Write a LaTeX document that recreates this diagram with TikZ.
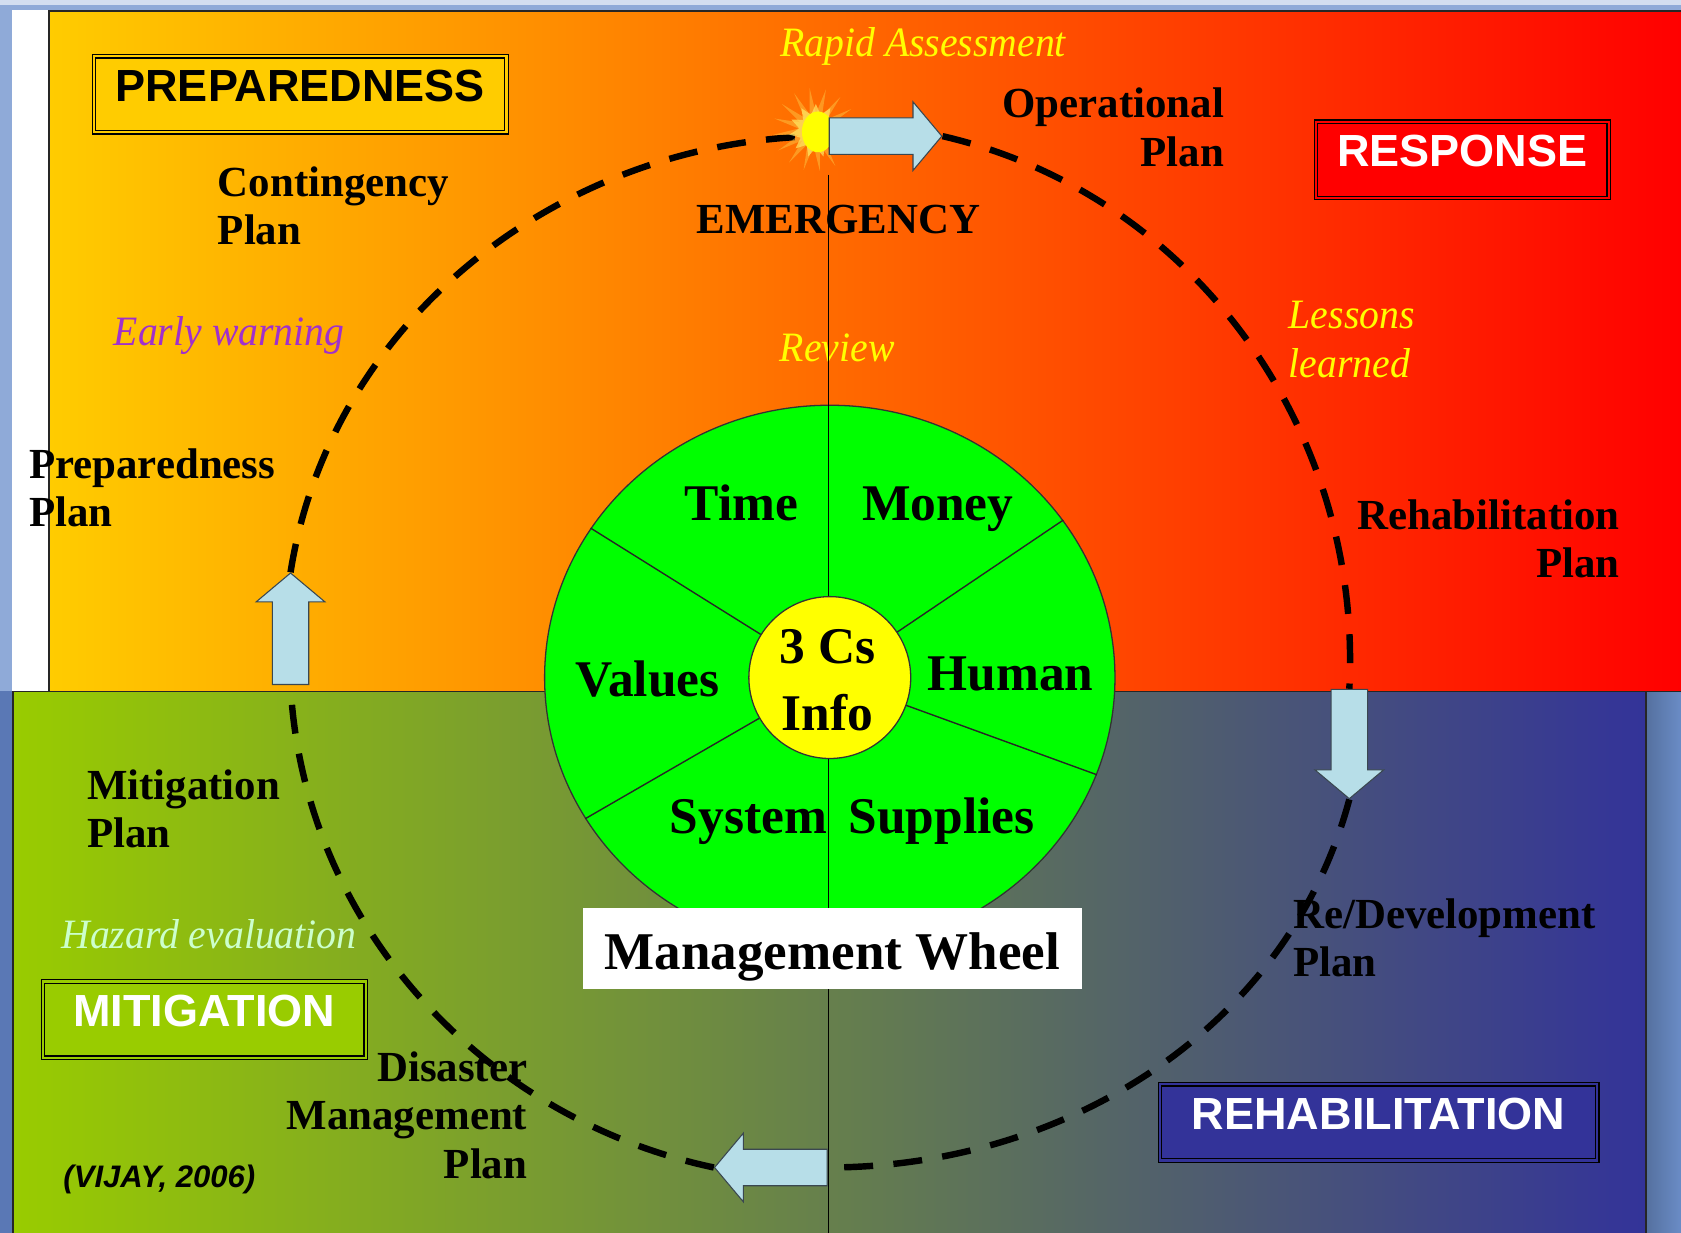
\documentclass[tikz,border=0pt]{standalone}
\usepackage{fontspec}
\setmainfont{Liberation Serif}
\newfontfamily\arialf{Liberation Sans}
\newfontfamily\itfam[FakeStretch=0.95]{Liberation Serif}
\usetikzlibrary{shapes.arrows,shapes.geometric}
\definecolor{topL}{HTML}{FFCC00}
\definecolor{topM}{HTML}{FFA000}
\definecolor{topR}{HTML}{FF0000}
\definecolor{botL}{HTML}{99CC00}
\definecolor{botM}{HTML}{76946E}
\definecolor{botR}{HTML}{333399}
\definecolor{slide}{HTML}{8FAAD8}
\definecolor{slidepale}{HTML}{D3DEF0}
\definecolor{slidedk}{HTML}{5A78B5}
\definecolor{stripR}{HTML}{6A8CC6}
\definecolor{arrfill}{HTML}{B7DEE8}
\definecolor{arrline}{HTML}{3A4750}
\definecolor{wgreen}{HTML}{00FF00}
\definecolor{hubyel}{HTML}{FFFF00}
\definecolor{ewarn}{HTML}{A030CC}
\definecolor{hazard}{HTML}{CCFFCC}
\definecolor{rapid}{HTML}{FFFF00}
\definecolor{mitfill}{HTML}{99CC00}
\definecolor{rehfill}{HTML}{333399}
\pgfdeclarelayer{bgl}
\pgfdeclarelayer{mid}
\pgfsetlayers{bgl,mid,main}
\begin{document}
\begin{tikzpicture}[x=1pt, y=-1pt,
  phase/.style={draw=black, line width=1.1pt, double=#1, double distance=2pt, fill=#1,
    font=\arialf\bfseries\fontsize{42}{42}\selectfont, text height=36pt, text depth=23pt,
    inner ysep=6pt, inner xsep=0pt},
  lab/.style={font=\bfseries\fontsize{40}{45}\selectfont, inner sep=0pt},
  itl/.style={font=\itfam\itshape\fontsize{39}{45}\selectfont, inner sep=0pt},
  whl/.style={font=\bfseries\fontsize{48}{48}\selectfont, inner sep=0pt},
  arr/.style={single arrow, fill=arrfill, draw=arrline, line width=1pt,
    text height=16.5pt, text depth=16.5pt, minimum width=63pt,
    single arrow head extend=15pt, single arrow tip angle=100, inner sep=0pt, anchor=tail},
  cyc/.style={line width=6pt, dash pattern=on 27pt off 19pt},
  spoke/.style={draw=black!85, line width=1.3pt}]
\useasboundingbox (0,0) rectangle (1568,1150);
\begin{pgfonlayer}{bgl}
  \fill[slidepale] (0,0) rectangle (1568,1150);
  \fill[slide] (0,5) rectangle (1568,1150);
  \fill[slidedk] (0,645) rectangle (12,1150);
  \fill[white] (11,9) rectangle (46,645);
  \shade[left color=topL, middle color=topM, right color=topR] (46,10) rectangle (1568,645);
  \shade[left color=botL, middle color=botM, right color=botR] (12,645) rectangle (1535,1150);
  \shade[left color=stripR!80!black, right color=stripR] (1535,645) rectangle (1568,1150);
  \draw[line width=1.6pt, black!85] (1568,10) -- (46,10) -- (46,645);
  \draw[line width=1.6pt, black!85] (12,1150) -- (12,645) -- (1568,645);
  \draw[line width=1.6pt, black!85] (1535,645) -- (1535,1150);
\end{pgfonlayer}

% phase boxes
\node[phase=topL, minimum width=385pt] (prep) at (280,88) {PREPAREDNESS};
\node[phase=red, text=white, minimum width=273pt] (resp) at (1364,149) {RESPONSE};
\node[phase=mitfill, text=white, minimum width=301pt] (miti) at (190.5,951) {MITIGATION};
\node[phase=rehfill, text=white, minimum width=408pt] (rehab) at (1286,1047) {REHABILITATION};

% plan labels
\node[lab, align=left, anchor=north west] (contin) at (203,155) {Contingency\\Plan};
\node[lab, align=right, anchor=north east] (oper) at (1142,82) {Operational\\Plan};
\node[lab, anchor=base] (emerg) at (782,217.6) {EMERGENCY};
\node[lab, align=left, anchor=north west] (prepplan) at (27,418) {Preparedness\\Plan};
\node[lab, align=right, anchor=north east] (rehplan) at (1511,466) {Rehabilitation\\Plan};
\node[lab, align=left, anchor=north west] (mitplan) at (81,718) {Mitigation\\Plan};
\node[lab, align=right, anchor=north east] (dmplan) at (492,981) {Disaster\\Management\\Plan};
\node[lab, align=left, anchor=north west] (redev) at (1206,838) {Re/Development\\Plan};

% italic notes
\node[itl, text=rapid, anchor=base] (rapidn) at (861,53) {Rapid Assessment};
\node[itl, text=rapid, anchor=base] (review) at (781,337) {Review};
\node[itl, text=rapid, align=left, anchor=north west] (lessons) at (1202,281) {Lessons\\learned};
\node[itl, text=ewarn, anchor=base west] (early) at (106,322) {Early warning};
\node[itl, text=hazard, anchor=base west] (hazardn) at (57,885) {Hazard evaluation};
\node[font=\arialf\bfseries\itshape\fontsize{29}{29}\selectfont, inner sep=0pt, anchor=base west] (vijay) at (59,1107.5) {(VIJAY, 2006)};

% wheel
\node[ellipse, minimum width=532pt, minimum height=508pt, fill=wgreen, draw=black!80, line width=1.2pt, inner sep=0pt] (wheel) at (774,632) {};
\coordinate (vtop) at (773,163);
\coordinate (vbot) at (773,1150);
\draw[line width=1.4pt] (vtop) -- (vbot);
\node[circle, minimum size=151pt, inner sep=0pt] (hubref) at (774,632) {};
\draw[spoke] (hubref.148.7) -- (wheel.148.7);
\draw[spoke] (hubref.34.9) -- (wheel.34.9);
\draw[spoke] (hubref.-20.4) -- (wheel.-20.4);
\draw[spoke] (hubref.210.4) -- (wheel.210.4);
\node[circle, minimum size=151pt, inner sep=0pt, fill=hubyel, draw=black!80, line width=1.2pt] (hub) at (774,632) {};
\node[whl, anchor=base] (wtime) at (691.6,485.4) {Time};
\node[whl, anchor=base] (wmoney) at (874.7,485.4) {Money};
\node[whl, anchor=base] (wvalues) at (604,649.5) {Values};
\node[whl, anchor=base] (whuman) at (942.5,644) {Human};
\node[whl, anchor=base] (wcs) at (772,619) {3 Cs};
\node[whl, anchor=base] (winfo) at (772,681) {Info};
\node[whl, anchor=base] (wsystem) at (698,777) {System};
\node[whl, anchor=base] (wsupplies) at (878.4,777) {Supplies};
\node[fill=white, minimum width=465pt, text height=50pt, text depth=11.4pt, inner ysep=7.1pt, inner xsep=0pt,
  font=\bfseries\fontsize{49.5}{49.5}\selectfont] (mwheel) at (776.4,884.7) {Management Wheel};

% burst
\node[star, star points=16, star point ratio=2.6, minimum size=78pt, fill=yellow!50!orange!70!white, opacity=0.45, inner sep=0pt, rotate=7] (burst) at (760,121) {};
\node[star, star points=11, star point ratio=1.6, minimum size=50pt, fill=yellow!80!orange!60!white, opacity=0.7, inner sep=0pt] (burstglow) at (761,122) {};
\node[ellipse, minimum width=30pt, minimum height=38pt, fill=hubyel, inner sep=0pt] (burstcore) at (763,123) {};

% cycle arrows
\node[arr, minimum height=105pt] (aT) at (773,127) {};
\node[arr, minimum height=102pt, rotate=-90] (aR) at (1258.6,642.5) {};
\node[arr, minimum height=105pt, rotate=180] (aB) at (772,1089) {};
\node[arr, minimum height=104pt, rotate=90] (aL) at (271,639) {};

\begin{pgfonlayer}{mid}
  \draw[cyc] (aT.tip) to[out=-13, in=87, looseness=0.96] (aR.tail);
  \draw[cyc] (aR.tip) to[out=-105, in=0, looseness=0.95] (aB.tail);
  \draw[cyc] (aB.tip) to[out=168, in=-87, looseness=0.95] (aL.tail);
  \draw[cyc] (aL.tip) to[out=81, in=180, looseness=0.96] (aT.tail);
\end{pgfonlayer}
\end{tikzpicture}
\end{document}
